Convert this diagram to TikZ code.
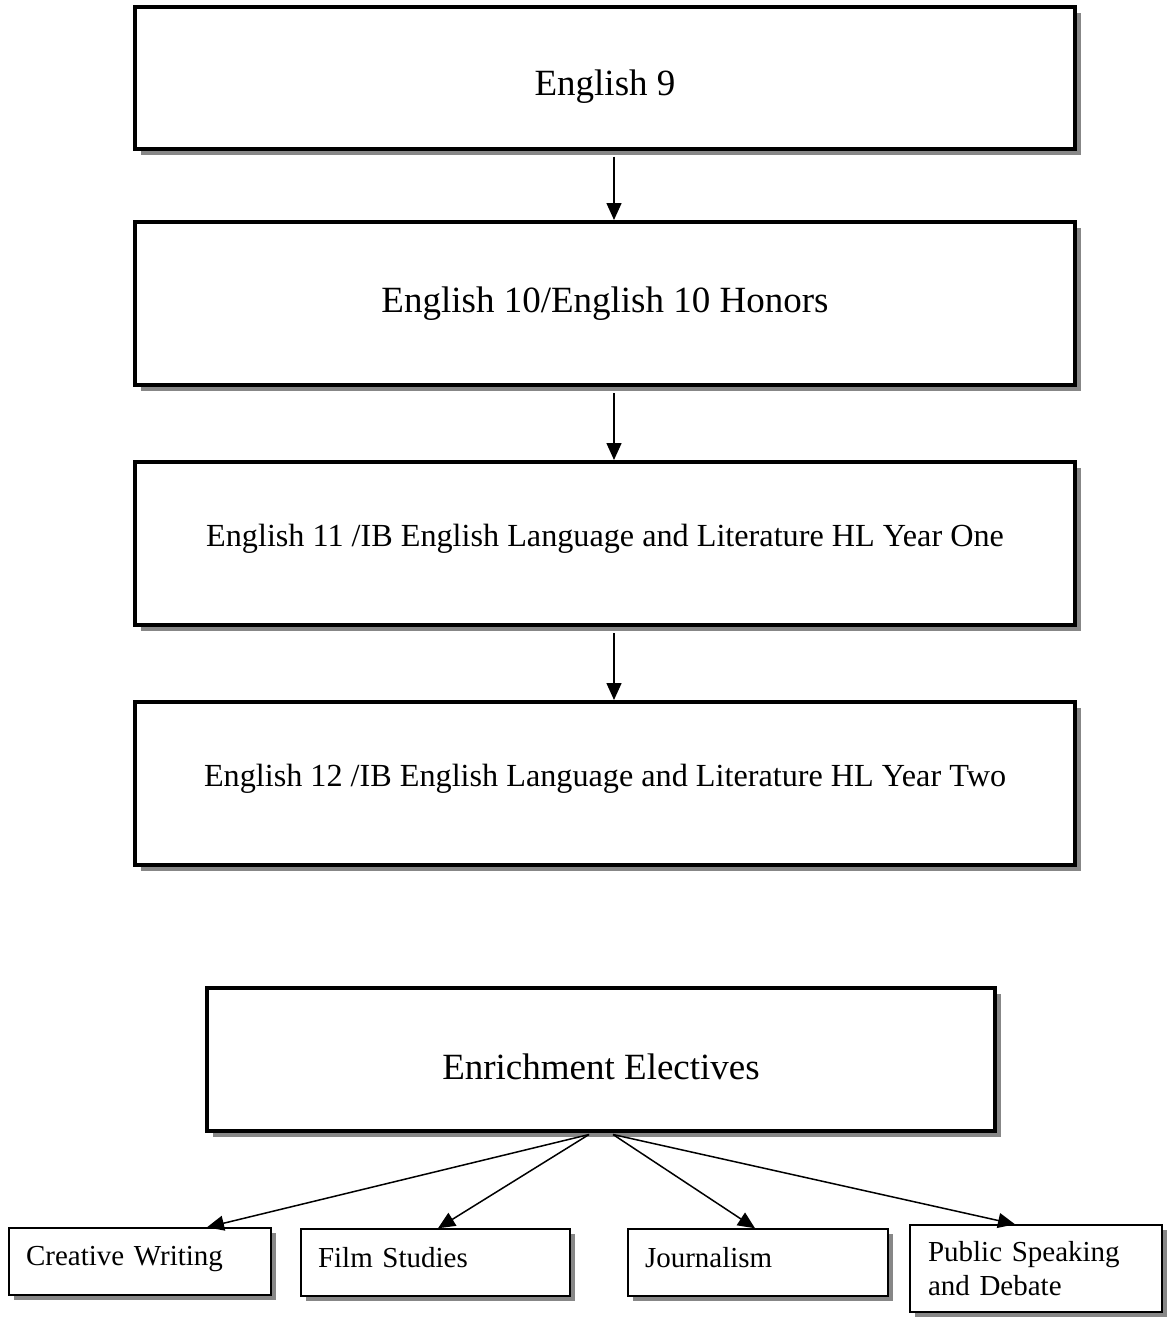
\documentclass[tikz,border=0pt]{standalone}
\usepackage{fontspec}
\setmainfont{Liberation Serif}
\usepackage{tikz}
\usetikzlibrary{shapes,arrows.meta,positioning,shadows}
\definecolor{shadowgray}{HTML}{878787}
\tikzstyle{bigblock}=[rectangle, draw, align=center, fill=white, line width=4pt, minimum width=940pt, minimum height=163pt, inner sep=0pt, drop shadow={shadow xshift=6pt, shadow yshift=-6pt, fill=shadowgray, opacity=1}]
\tikzstyle{smallblock}=[rectangle, draw, align=left, fill=white, line width=1.5pt, inner xsep=17pt, inner ysep=0pt, minimum height=67pt, font=\fontsize{29}{34}\selectfont, drop shadow={shadow xshift=5pt, shadow yshift=-5pt, fill=shadowgray, opacity=1}]
\tikzstyle{link}=[line width=1.5pt, -{Triangle[length=17pt,width=15pt]}]

\begin{document}
\begin{tikzpicture}[x=1pt, y=-1pt]
\useasboundingbox (0,0) rectangle (1171,1319);

\node[bigblock, minimum height=141pt, text height=43pt, text depth=8pt, font=\fontsize{37}{44}\selectfont](p1) at (605,78) {English 9};
\node[bigblock, font=\fontsize{37}{44}\selectfont](p2) at (605,303.5) {English 10/English 10 Honors};
\node[bigblock, text depth=17pt, font=\fontsize{32.2}{38}\selectfont](p3) at (605,543.5) {English 11 /IB English Language and Literature HL Year One};
\node[bigblock, text depth=17pt, font=\fontsize{32.2}{38}\selectfont](p4) at (605,783.5) {English 12 /IB English Language and Literature HL Year Two};
\node[bigblock, minimum width=788pt, minimum height=143pt, text height=40pt, text depth=0pt, font=\fontsize{37}{44}\selectfont](enr) at (601,1059) {Enrichment Electives};

\node[smallblock, text width=228pt, text depth=11pt](cw) at (140,1261.5) {Creative Writing};
\node[smallblock, text width=235pt, text depth=11pt](film) at (435.5,1262.5) {Film Studies};
\node[smallblock, text width=226pt, text depth=11pt](jour) at (758,1262.5) {Journalism};
\node[smallblock, text width=216pt, minimum height=87pt, inner xsep=18pt](pub) at (1036,1268.5) {Public Speaking\\and Debate};

\draw[link]([xshift=9pt,yshift=-6pt]p1.south) -- ([xshift=9pt]p2.north);
\draw[link]([xshift=9pt,yshift=-6pt]p2.south) -- ([xshift=9pt]p3.north);
\draw[link]([xshift=9pt,yshift=-6pt]p3.south) -- ([xshift=9pt]p4.north);

\draw[link]([xshift=-12pt,yshift=-2pt]enr.south) -- ([xshift=67pt]cw.north);
\draw[link]([xshift=-12pt,yshift=-2pt]enr.south) -- ([xshift=2.5pt]film.north);
\draw[link]([xshift=12pt,yshift=-2pt]enr.south) -- ([xshift=-3pt]jour.north);
\draw[link]([xshift=12pt,yshift=-2pt]enr.south) -- ([xshift=-21pt]pub.north);

\end{tikzpicture}
\end{document}
